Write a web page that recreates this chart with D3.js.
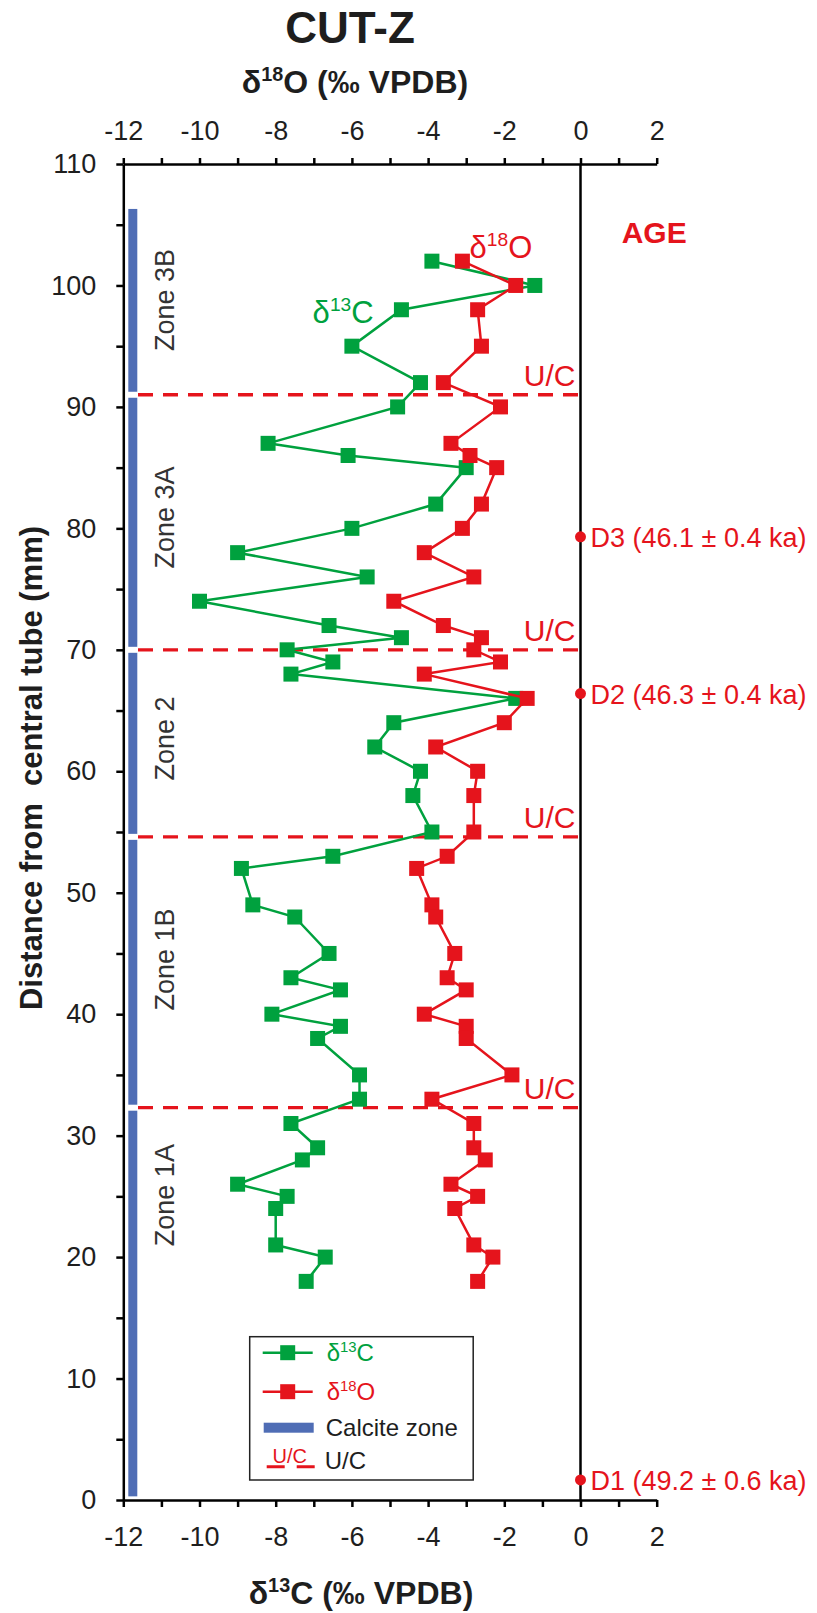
<!DOCTYPE html>
<html>
<head>
<meta charset="utf-8">
<script src="https://cdn.jsdelivr.net/npm/d3@7"></script>
<style>
  body { margin: 0; background: #fff; }
  svg { display: block; font-family: "Liberation Sans", Arial, sans-serif; }
</style>
</head>
<body>
<svg id="chart" width="817" height="1613"></svg>
<script>
// sample depths, mm from central tube
const depth = [102, 100, 98, 95, 92, 90, 87, 86, 85, 82, 80, 78, 76, 74, 72, 71, 70, 69, 68, 66, 64, 62, 60,
  58, 55, 53, 52, 49, 48, 45, 43, 42, 40, 39, 38, 35, 33, 31, 29, 28, 26, 25, 24, 21, 20, 18];
const d13C = [-3.9, -1.2, -4.7, -6.0, -4.2, -4.8, -8.2, -6.1, -3.0, -3.8, -6.0, -9.0, -5.6, -10.0, -6.6, -4.7,
  -7.7, -6.5, -7.6, -1.7, -4.9, -5.4, -4.2, -4.4, -3.9, -6.5, -8.9, -8.6, -7.5, -6.6, -7.6, -6.3, -8.1, -6.3,
  -6.9, -5.8, -5.8, -7.6, -6.9, -7.3, -9.0, -7.7, -8.0, -8.0, -6.7, -7.2];
const d18O = [-3.1, -1.7, -2.7, -2.6, -3.6, -2.1, -3.4, -2.9, -2.2, -2.6, -3.1, -4.1, -2.8, -4.9, -3.6, -2.6,
  -2.8, -2.1, -4.1, -1.4, -2.0, -3.8, -2.7, -2.8, -2.8, -3.5, -4.3, -3.9, -3.8, -3.3, -3.5, -3.0, -4.1, -3.0,
  -3.0, -1.8, -3.9, -2.8, -2.8, -2.5, -3.4, -2.7, -3.3, -2.8, -2.3, -2.7];

// U/C sample lines and calcite zone extent (mm)
const ucDepth = [91.0, 70.0, 54.6, 32.3];
const calcite = [0.3, 106.3];

const zoneNames = ["Zone 3B", "Zone 3A", "Zone 2", "Zone 1B", "Zone 1A"];
const zoneMid = [98.8, 80.9, 62.7, 44.5, 25.1];

const ageNames = ["D3 (46.1 \u00b1 0.4 ka)", "D2 (46.3 \u00b1 0.4 ka)", "D1 (49.2 \u00b1 0.6 ka)"];
const ageDepth = [79.3, 66.4, 1.65];

const xTicks = d3.range(-12, 3, 1);
const yTicks = d3.range(0, 111, 5);

const GREEN = "#00a13e";
const RED = "#e5141c";
const BLUE = "#4f6db5";
const INK = "#1e1e1e";

const svg = d3.select("#chart");

const x = d3.scaleLinear().domain([-12, 2]).range([123.3, 656.7]);
const y = d3.scaleLinear().domain([0, 110]).range([1500, 164]);

// text with a superscript mass number, e.g. δ18O
function isoText(g, sup, rest, size) {
  const t = g.append("text").attr("font-size", size);
  t.append("tspan").text("\u03b4");
  t.append("tspan").attr("font-size", size * 0.62).attr("dy", -size * 0.38).text(sup);
  t.append("tspan").attr("dy", size * 0.38).text(rest);
  return t;
}

// titles
svg.append("text")
  .attr("x", 350).attr("y", 43)
  .attr("text-anchor", "middle")
  .attr("font-size", 44).attr("font-weight", "bold").attr("fill", INK)
  .text("CUT-Z");

isoText(svg, "18", "O (\u2030 VPDB)", 32)
  .attr("x", 355).attr("y", 93)
  .attr("text-anchor", "middle").attr("font-weight", "bold").attr("fill", INK);

isoText(svg, "13", "C (\u2030 VPDB)", 32)
  .attr("x", 361).attr("y", 1604)
  .attr("text-anchor", "middle").attr("font-weight", "bold").attr("fill", INK);

svg.append("text")
  .attr("transform", "translate(31,768) rotate(-90)")
  .attr("text-anchor", "middle").attr("dominant-baseline", "central")
  .attr("font-size", 31).attr("font-weight", "bold").attr("fill", INK)
  .style("white-space", "pre")
  .text("Distance from  central tube (mm)");

// axes
const fmtX = (d) => (d % 2 === 0 ? String(d) : "");
const fmtY = (d) => (d % 10 === 0 ? String(d) : "");

const gTop = svg.append("g")
  .attr("transform", `translate(0,${y(110)})`)
  .call(d3.axisTop(x).tickValues(xTicks).tickFormat(fmtX).tickSizeInner(6).tickSizeOuter(0).tickPadding(18));

const gBottom = svg.append("g")
  .attr("transform", `translate(0,${y(0)})`)
  .call(d3.axisBottom(x).tickValues(xTicks).tickFormat(fmtX).tickSizeInner(7).tickSizeOuter(0).tickPadding(20));

const gLeft = svg.append("g")
  .attr("transform", `translate(${x(-12)},0)`)
  .call(d3.axisLeft(y).tickValues(yTicks).tickFormat(fmtY).tickSizeInner(7).tickSizeOuter(0).tickPadding(20));

[gTop, gBottom, gLeft].forEach((g) => {
  g.attr("font-family", null).attr("font-size", 27);
  g.selectAll(".domain, .tick line").attr("stroke", "#000").attr("stroke-width", 2.5);
  g.selectAll(".tick text").attr("fill", INK);
});

// zero line
svg.append("line")
  .attr("x1", x(0)).attr("x2", x(0))
  .attr("y1", y(110)).attr("y2", y(0))
  .attr("stroke", "#000").attr("stroke-width", 2.5);

// calcite zone bar, broken at the U/C lines
const bounds = [calcite[0]].concat(ucDepth.slice().sort((a, b) => a - b), [calcite[1]]);
for (let i = 0; i < bounds.length - 1; i++) {
  const top = y(bounds[i + 1]) + (i + 1 < bounds.length - 1 ? 3 : 0);
  const bot = y(bounds[i]) - (i > 0 ? 3 : 0);
  svg.append("rect")
    .attr("x", 128.3).attr("width", 9)
    .attr("y", top).attr("height", bot - top)
    .attr("fill", BLUE);
}

// U/C dashed lines + labels
svg.selectAll(".uc")
  .data(ucDepth)
  .enter()
  .append("line")
  .attr("x1", 138).attr("x2", x(0))
  .attr("y1", (d) => y(d)).attr("y2", (d) => y(d))
  .attr("stroke", RED).attr("stroke-width", 3.3)
  .attr("stroke-dasharray", "15,10");

svg.selectAll(".uclab")
  .data(ucDepth)
  .enter()
  .append("text")
  .attr("x", x(0) - 5)
  .attr("y", (d) => y(d) - 9)
  .attr("text-anchor", "end")
  .attr("font-size", 30).attr("fill", RED)
  .text("U/C");

// zone labels
svg.selectAll(".zone")
  .data(zoneNames)
  .enter()
  .append("text")
  .attr("transform", (d, i) => `translate(165,${y(zoneMid[i])}) rotate(-90)`)
  .attr("text-anchor", "middle").attr("dominant-baseline", "central")
  .attr("font-size", 27).attr("fill", "#333")
  .text((d) => d);

// isotope series
const rowsC = depth.map((d, i) => ({ depth: d, v: d13C[i] }));
const rowsO = depth.map((d, i) => ({ depth: d, v: d18O[i] }));
const line = d3.line().x((d) => x(d.v)).y((d) => y(d.depth));
const MK = 15;

[[rowsC, GREEN], [rowsO, RED]].forEach(([rows, col]) => {
  svg.append("path")
    .datum(rows)
    .attr("d", line)
    .attr("fill", "none")
    .attr("stroke", col).attr("stroke-width", 2.5);
  svg.append("g")
    .selectAll("rect")
    .data(rows)
    .enter()
    .append("rect")
    .attr("x", (d) => x(d.v) - MK / 2)
    .attr("y", (d) => y(d.depth) - MK / 2)
    .attr("width", MK).attr("height", MK)
    .attr("fill", col);
});

// in-plot series labels
isoText(svg, "13", "C", 31)
  .attr("x", x(-6.23)).attr("y", y(96.9))
  .attr("text-anchor", "middle").attr("fill", GREEN);
isoText(svg, "18", "O", 31)
  .attr("x", x(-2.09)).attr("y", y(102.3))
  .attr("text-anchor", "middle").attr("fill", RED);

// ages
svg.append("text")
  .attr("x", 621.7).attr("y", 243)
  .attr("font-size", 30).attr("font-weight", "bold").attr("fill", RED)
  .text("AGE");

svg.selectAll(".age")
  .data(ageDepth)
  .enter()
  .append("circle")
  .attr("cx", x(0)).attr("cy", (d) => y(d))
  .attr("r", 5.5).attr("fill", RED);

svg.selectAll(".agelab")
  .data(ageNames)
  .enter()
  .append("text")
  .attr("x", x(0) + 10)
  .attr("y", (d, i) => y(ageDepth[i]) + 10)
  .attr("font-size", 27).attr("fill", RED)
  .text((d) => d);

// legend
const lg = svg.append("g").attr("transform", "translate(249.7,1336.7)");
lg.append("rect")
  .attr("width", 223.5).attr("height", 143.3)
  .attr("fill", "#fff").attr("stroke", "#222").attr("stroke-width", 1.5);

[[GREEN, "13", "C", 16], [RED, "18", "O", 55]].forEach(([col, sup, rest, cy]) => {
  lg.append("line")
    .attr("x1", 13).attr("x2", 63).attr("y1", cy).attr("y2", cy)
    .attr("stroke", col).attr("stroke-width", 2.5);
  lg.append("rect")
    .attr("x", 38 - MK / 2).attr("y", cy - MK / 2)
    .attr("width", MK).attr("height", MK).attr("fill", col);
  isoText(lg, sup, rest, 24).attr("x", 77).attr("y", cy + 8).attr("fill", col);
});

lg.append("rect").attr("x", 14).attr("y", 86).attr("width", 50).attr("height", 10).attr("fill", BLUE);
lg.append("text").attr("x", 76).attr("y", 99).attr("font-size", 24).attr("fill", INK).text("Calcite zone");

lg.append("text").attr("x", 40).attr("y", 126).attr("text-anchor", "middle")
  .attr("font-size", 20).attr("fill", RED).text("U/C");
lg.append("line")
  .attr("x1", 17).attr("x2", 65).attr("y1", 130).attr("y2", 130)
  .attr("stroke", RED).attr("stroke-width", 3).attr("stroke-dasharray", "18,12");
lg.append("text").attr("x", 75).attr("y", 132).attr("font-size", 24).attr("fill", INK).text("U/C");
</script>
</body>
</html>
